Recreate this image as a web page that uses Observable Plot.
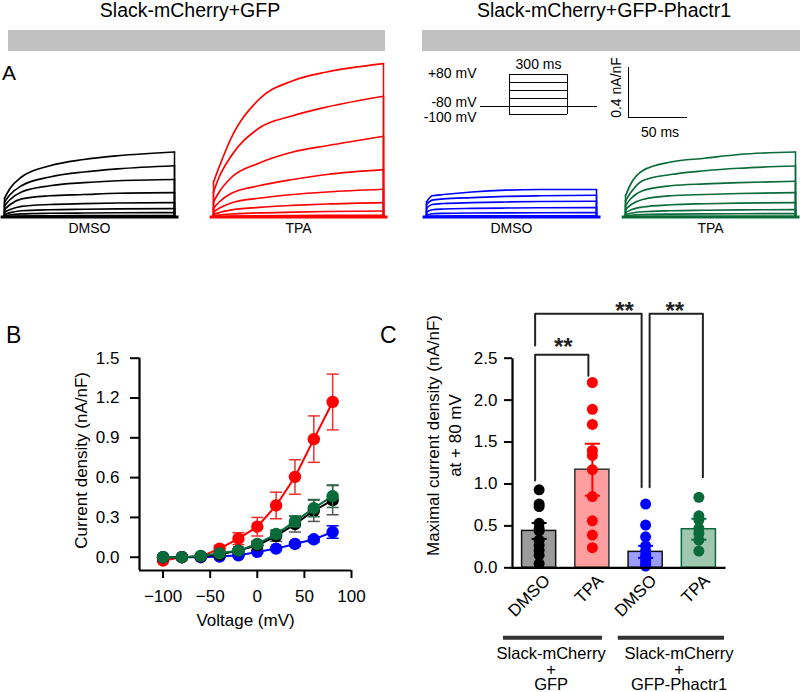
<!DOCTYPE html>
<html>
<head>
<meta charset="utf-8">
<script src="https://cdn.jsdelivr.net/npm/d3@7"></script>
<script src="https://cdn.jsdelivr.net/npm/@observablehq/plot@0.6"></script>
<style>
html,body{margin:0;padding:0;background:#fff;}
#fig{position:relative;width:800px;height:692px;overflow:hidden;font-family:"Liberation Sans",Arial,Helvetica,sans-serif;color:#000;background:#fff;}
.abs{position:absolute;line-height:1;white-space:nowrap;}
.abs svg{display:block;}
.title{font-size:19.5px;text-align:center;}
.letter{font-size:22px;}
.band{background:#c0c0c0;height:21px;}
</style>
</head>
<body>
<div id="fig"></div>
<script>
// ---------------- DATA ----------------
// Panel A: current traces (nA/nF) sampled at these times (ms) of the 300 ms step
const traceTimes = [0, 10, 30, 80, 140, 200, 300];
const holdingSpan = [-6, 308];
const tracesGfpDmso = [
  [0.15, 0.23, 0.32, 0.41, 0.46, 0.49, 0.52],
  [0.12, 0.18, 0.25, 0.32, 0.36, 0.385, 0.41],
  [0.09, 0.14, 0.20, 0.25, 0.275, 0.29, 0.30],
  [0.06, 0.10, 0.145, 0.17, 0.18, 0.19, 0.195],
  [0.04, 0.06, 0.085, 0.10, 0.107, 0.112, 0.115],
  [0.02, 0.035, 0.05, 0.058, 0.062, 0.065, 0.067],
  [0.01, 0.018, 0.025, 0.03, 0.032, 0.034, 0.035],
  [0.003, 0.006, 0.008, 0.01, 0.011, 0.012, 0.012],
  [0, 0.002, 0.003, 0.003, 0.004, 0.004, 0.004],
  [0, 0, 0, 0, 0, 0, 0]
];
const tracesGfpTpa = [
  [0.28, 0.40, 0.62, 0.94, 1.09, 1.16, 1.227],
  [0.20, 0.32, 0.48, 0.71, 0.81, 0.88, 0.966],
  [0.12, 0.20, 0.31, 0.43, 0.52, 0.57, 0.646],
  [0.07, 0.12, 0.186, 0.25, 0.30, 0.34, 0.379],
  [0.04, 0.07, 0.11, 0.15, 0.18, 0.20, 0.222],
  [0.02, 0.035, 0.055, 0.077, 0.093, 0.104, 0.115],
  [0.008, 0.015, 0.024, 0.033, 0.039, 0.044, 0.048],
  [0.002, 0.004, 0.007, 0.01, 0.012, 0.013, 0.014],
  [0, 0.001, 0.002, 0.003, 0.003, 0.004, 0.004],
  [0, 0, 0, 0, 0, 0, 0]
];
const tracesPhDmso = [
  [0.12, 0.17, 0.18, 0.20, 0.215, 0.22, 0.22],
  [0.10, 0.135, 0.145, 0.155, 0.165, 0.17, 0.174],
  [0.07, 0.10, 0.108, 0.115, 0.12, 0.124, 0.126],
  [0.04, 0.058, 0.064, 0.069, 0.072, 0.074, 0.075],
  [0.015, 0.026, 0.029, 0.032, 0.033, 0.034, 0.035],
  [0.004, 0.007, 0.008, 0.009, 0.01, 0.01, 0.01],
  [0, 0, 0, 0, 0, 0, 0]
];
const tracesPhTpa = [
  [0.17, 0.27, 0.37, 0.44, 0.47, 0.50, 0.52],
  [0.13, 0.20, 0.29, 0.34, 0.37, 0.39, 0.408],
  [0.09, 0.15, 0.21, 0.25, 0.265, 0.275, 0.286],
  [0.06, 0.10, 0.14, 0.17, 0.18, 0.188, 0.195],
  [0.035, 0.058, 0.08, 0.098, 0.106, 0.111, 0.115],
  [0.018, 0.03, 0.042, 0.05, 0.054, 0.057, 0.059],
  [0.008, 0.014, 0.019, 0.023, 0.025, 0.026, 0.027],
  [0.002, 0.003, 0.004, 0.005, 0.006, 0.006, 0.006],
  [0, 0, 0, 0, 0, 0, 0]
];
const traceLabels = ["DMSO", "TPA", "DMSO", "TPA"];
const conditionTitles = ["Slack-mCherry+GFP", "Slack-mCherry+GFP-Phactr1"];

// Voltage protocol (schematic)
const protocolLevels = ["+80", "+40", "0", "-40", "-80", "-100"];
const protocolHolding = "-80";
const protocolStep = [0, 300];        // ms
const protocolHoldSpan = [-150, 455]; // ms
const protocolLabels = ["+80 mV", "-80 mV", "-100 mV"];
const protocolDurationLabel = "300 ms";
// Scale bar
const scaleBarTime = 50;      // ms
const scaleBarCurrent = 0.4;  // nA/nF

// Panel B: I-V relation
const voltages = [-100, -80, -60, -40, -20, 0, 20, 40, 60, 80];
const ivGfpDmso    = [0.0, 0.0, 0.005, 0.02, 0.05, 0.09, 0.16, 0.25, 0.35, 0.43];
const ivGfpDmsoSem = [0.005, 0.005, 0.005, 0.01, 0.015, 0.03, 0.04, 0.06, 0.08, 0.11];
const ivGfpTpa     = [-0.025, 0.0, 0.005, 0.065, 0.14, 0.23, 0.39, 0.605, 0.89, 1.17];
const ivGfpTpaSem  = [0.01, 0.005, 0.01, 0.02, 0.045, 0.07, 0.10, 0.13, 0.175, 0.21];
const ivPhDmso     = [0.0, 0.0, 0.0, 0.005, 0.015, 0.04, 0.065, 0.10, 0.135, 0.19];
const ivPhDmsoSem  = [0.0, 0.0, 0.0, 0.005, 0.01, 0.01, 0.01, 0.015, 0.02, 0.047];
const ivPhTpa      = [0.0, 0.0, 0.01, 0.03, 0.05, 0.10, 0.175, 0.27, 0.37, 0.46];
const ivPhTpaSem   = [0.0, 0.0, 0.005, 0.01, 0.015, 0.02, 0.03, 0.04, 0.065, 0.085];
const ivXTicks = [-100, -50, 0, 50, 100];
const ivYTicks = [0, 0.3, 0.6, 0.9, 1.2, 1.5];

// Panel C: maximal current density at +80 mV
const barKeys   = ["GFP_DMSO", "GFP_TPA", "PH_DMSO", "PH_TPA"];
const barLabels = ["DMSO", "TPA", "DMSO", "TPA"];
const barMeans  = [0.44, 1.17, 0.19, 0.46];
const barSems   = [0.095, 0.31, 0.072, 0.125];
const ptsGfpDmso = [0.93, 0.76, 0.73, 0.53, 0.47, 0.44, 0.33, 0.27, 0.21, 0.15, 0.05];
const ptsGfpTpa  = [2.21, 1.89, 1.71, 1.40, 1.34, 1.17, 0.85, 0.56, 0.39, 0.24];
const ptsPhDmso  = [0.76, 0.51, 0.37, 0.26, 0.20, 0.15, 0.11, 0.07, 0.04, 0.02];
const ptsPhTpa   = [0.84, 0.62, 0.57, 0.47, 0.41, 0.33, 0.20];
const barYTicks = [0, 0.5, 1.0, 1.5, 2.0, 2.5];
const groupNames = ["Slack-mCherry\n+\nGFP", "Slack-mCherry\n+\nGFP-Phactr1"];
const groupMembers = [["GFP_DMSO", "GFP_TPA"], ["PH_DMSO", "PH_TPA"]];
const comparisons = [
  {a: "GFP_DMSO", b: "GFP_TPA", y: 2.54, ya: 1.04, yb: 2.29, label: "**"},
  {a: "GFP_DMSO", b: "PH_DMSO", y: 3.03, ya: 2.65, yb: 0.96, label: "**"},
  {a: "PH_DMSO",  b: "PH_TPA",  y: 3.03, ya: 0.96, yb: 1.08, label: "**"}
];

// ---------------- RENDERING ----------------
const FONT = '"Liberation Sans", Arial, Helvetica, sans-serif';
const baseStyle = {fontFamily: FONT, background: "transparent", overflow: "visible", maxWidth: "none", color: "#000"};
const fig = document.getElementById("fig");

function place(node, left, top, cls) {
  const d = document.createElement("div");
  d.className = "abs" + (cls ? " " + cls : "");
  d.style.left = left + "px";
  d.style.top = top + "px";
  if (typeof node === "string") d.textContent = node; else d.appendChild(node);
  fig.appendChild(d);
  return d;
}

// Titles, grey bands and panel letters
const t1 = place(conditionTitles[0], 0, 0.5, "title"); t1.style.width = "380px";
const t2 = place(conditionTitles[1], 404, 0.5, "title"); t2.style.width = "400px";
const b1 = place("", 8, 30, "band"); b1.style.width = "377px";
const b2 = place("", 422, 30, "band"); b2.style.width = "378px";
place("A", 2, 62, "letter").style.fontSize = "21px";
place("B", 6, 324, "letter").style.fontSize = "23px";
place("C", 380, 324, "letter").style.fontSize = "23px";

// Panel A traces
const hLine = {draw(ctx, size) { const r = Math.sqrt(size / Math.PI); ctx.moveTo(-r, 0); ctx.lineTo(r, 0); }};
const tStart = traceTimes[0], tEnd = traceTimes[traceTimes.length - 1];

function tracePlot(traces, color, label) {
  const pts = traces.flatMap((tr, k) => tr.map((v, j) => ({k, t: traceTimes[j], v})));
  const starts = traces.map((tr, k) => ({k, v: tr[0]}));
  const ends = traces.map((tr, k) => ({k, v: tr[tr.length - 1]}));
  return Plot.plot({
    width: 200, height: 200,
    marginLeft: 10, marginRight: 20, marginTop: 10, marginBottom: 27.5,
    x: {domain: [tStart, tEnd], axis: null},
    y: {domain: [0, 1.3], axis: null},
    style: baseStyle,
    marks: [
      Plot.ruleY([0], {x1: holdingSpan[0], x2: holdingSpan[1], stroke: color, strokeWidth: 3}),
      Plot.ruleX(starts, {x: tStart, y1: 0, y2: "v", stroke: color, strokeWidth: 1.5}),
      Plot.ruleX(ends, {x: tEnd, y1: 0, y2: "v", stroke: color, strokeWidth: 1.5}),
      Plot.line(pts, {x: "t", y: "v", z: "k", stroke: color, strokeWidth: 1.7, curve: "monotone-x"}),
      Plot.text([label], {x: (tStart + tEnd) / 2, y: 0, dy: 6, lineAnchor: "top", fontSize: 14})
    ]
  });
}
place(tracePlot(tracesGfpDmso, "#000000", traceLabels[0]), -6, 44);
place(tracePlot(tracesGfpTpa, "#ff0000", traceLabels[1]), 203, 44);
place(tracePlot(tracesPhDmso, "#0000ff", traceLabels[2]), 416, 44);
place(tracePlot(tracesPhTpa, "#0a6b3a", traceLabels[3]), 615, 44);

// Protocol schematic
const protoSteps = protocolLevels.map(l => ({l}));
const protoPlot = Plot.plot({
  width: 207, height: 85.3,
  marginLeft: 80, marginRight: 10, marginTop: 32, marginBottom: 10,
  x: {domain: protocolHoldSpan, axis: null},
  y: {type: "point", domain: protocolLevels, padding: 0, axis: null},
  style: baseStyle,
  marks: [
    Plot.ruleY(protoSteps, {y: "l", x1: protocolStep[0], x2: protocolStep[1], stroke: "#000", strokeWidth: 1}),
    Plot.ruleY([protocolHolding], {y: d => d, x1: protocolHoldSpan[0], x2: protocolHoldSpan[1], stroke: "#000", strokeWidth: 1}),
    Plot.ruleX(protocolStep, {x: d => d, y1: () => protocolLevels[0], y2: () => protocolLevels[protocolLevels.length - 1], stroke: "#000", strokeWidth: 1}),
    Plot.text([protocolLabels[0]], {x: protocolHoldSpan[0], y: () => protocolLevels[0], dx: -4, dy: -1, textAnchor: "end", fontSize: 14}),
    Plot.text([protocolLabels[1]], {x: protocolHoldSpan[0], y: () => protocolHolding, dx: -4, dy: -4, textAnchor: "end", fontSize: 14}),
    Plot.text([protocolLabels[2]], {x: protocolHoldSpan[0], y: () => protocolLevels[protocolLevels.length - 1], dx: -4, dy: 3, textAnchor: "end", fontSize: 14}),
    Plot.text([protocolDurationLabel], {x: (protocolStep[0] + protocolStep[1]) / 2, y: () => protocolLevels[0], dy: -10, fontSize: 14})
  ]
});
place(protoPlot, 400, 40);

// Scale bar
const scalePlot = Plot.plot({
  width: 89, height: 85,
  marginLeft: 20, marginRight: 10, marginTop: 10, marginBottom: 25,
  x: {domain: [0, scaleBarTime], axis: null},
  y: {domain: [0, scaleBarCurrent], axis: null},
  style: baseStyle,
  marks: [
    Plot.ruleX([0], {y1: 0, y2: scaleBarCurrent, stroke: "#000", strokeWidth: 1}),
    Plot.ruleY([0], {x1: 0, x2: scaleBarTime, stroke: "#000", strokeWidth: 1}),
    Plot.text([`${scaleBarCurrent} nA/nF`], {x: 0, y: scaleBarCurrent / 2, rotate: -90, dx: -12, dy: -5, fontSize: 14}),
    Plot.text([`${scaleBarTime} ms`], {x: scaleBarTime / 2, y: 0, dx: 2, dy: 15, fontSize: 14})
  ]
});
place(scalePlot, 608, 57);

// Panel B: I-V
const ivSeries = [
  {mean: ivGfpTpa, sem: ivGfpTpaSem, color: "#ff0000", err: "#f03030"},
  {mean: ivPhDmso, sem: ivPhDmsoSem, color: "#0000ff", err: "#0000ff"},
  {mean: ivGfpDmso, sem: ivGfpDmsoSem, color: "#000000", err: "#555555"},
  {mean: ivPhTpa, sem: ivPhTpaSem, color: "#0a6b3a", err: "#2f6e4d"}
];
const ivMarks = [];
for (const s of ivSeries) {
  const rows = voltages.map((v, i) => ({v, m: s.mean[i], lo: s.mean[i] - s.sem[i], hi: s.mean[i] + s.sem[i]}));
  ivMarks.push(
    Plot.ruleX(rows, {x: "v", y1: "lo", y2: "hi", stroke: s.err, strokeWidth: 1.5}),
    Plot.dot(rows, {x: "v", y: "hi", symbol: hLine, r: 6, stroke: s.err, strokeWidth: 1.5}),
    Plot.dot(rows, {x: "v", y: "lo", symbol: hLine, r: 6, stroke: s.err, strokeWidth: 1.5}),
    Plot.line(rows, {x: "v", y: "m", stroke: s.color, strokeWidth: 2}),
    Plot.dot(rows, {x: "v", y: "m", r: 6.2, fill: s.color, stroke: "none"})
  );
}
const ivPlot = Plot.plot({
  width: 370, height: 330,
  marginLeft: 139, marginRight: 19, marginTop: 57.7, marginBottom: 60,
  x: {domain: [-125, 100]},
  y: {domain: [-0.1, 1.5]},
  style: baseStyle,
  marks: [
    Plot.ruleX([-125], {stroke: "#000", strokeWidth: 2.2}),
    Plot.ruleY([-0.1], {stroke: "#000", strokeWidth: 2.2}),
    Plot.axisX({ticks: ivXTicks, tickSize: 8, tickPadding: 11, fontSize: 17, strokeWidth: 2, label: null}),
    Plot.axisY({ticks: ivYTicks, tickSize: 9, tickPadding: 11, fontSize: 17, strokeWidth: 2, tickFormat: d3.format(".1f"), label: null}),
    Plot.text(["Voltage (mV)"], {frameAnchor: "bottom", lineAnchor: "top", dy: 43, fontSize: 17}),
    Plot.text(["Current density (nA/nF)"], {frameAnchor: "left", textAnchor: "middle", rotate: -90, dx: -58, dy: -4, fontSize: 17}),
    ...ivMarks
  ]
});
place(ivPlot, 0, 300);

// Panel C: bars
const barStyles = {
  GFP_DMSO: {fill: "#9b9b9b", stroke: "#111111", dot: "#000000"},
  GFP_TPA:  {fill: "#ff9e9e", stroke: "#333333", dot: "#ff0000"},
  PH_DMSO:  {fill: "#9c9cff", stroke: "#111111", dot: "#0000ff"},
  PH_TPA:   {fill: "#9fc6ae", stroke: "#0a6b3a", dot: "#0a6b3a"}
};
const barPoints = {GFP_DMSO: ptsGfpDmso, GFP_TPA: ptsGfpTpa, PH_DMSO: ptsPhDmso, PH_TPA: ptsPhTpa};
const barRows = barKeys.map((k, i) => ({k, m: barMeans[i], lo: barMeans[i] - barSems[i], hi: barMeans[i] + barSems[i]}));
const labelOf = Object.fromEntries(barKeys.map((k, i) => [k, barLabels[i]]));

const cMarks = [];
for (const r of barRows) {
  const st = barStyles[r.k];
  cMarks.push(Plot.barY([r], {x: "k", y: "m", fill: st.fill, stroke: st.stroke, strokeWidth: 1.5}));
}
for (const r of barRows) {
  const st = barStyles[r.k];
  const pts = barPoints[r.k].map(v => ({k: r.k, v}));
  cMarks.push(
    Plot.dot(pts, {x: "k", y: "v", r: 5.5, fill: st.dot, stroke: "none"}),
    Plot.ruleX([r], {x: "k", y1: "lo", y2: "hi", stroke: st.dot, strokeWidth: 2}),
    Plot.dot([r], {x: "k", y: "hi", symbol: hLine, r: 7.5, stroke: st.dot, strokeWidth: 2}),
    Plot.dot([r], {x: "k", y: "lo", symbol: hLine, r: 7.5, stroke: st.dot, strokeWidth: 2})
  );
}
// significance brackets
const bracketDx = [-4, -4, 4];
const starDx = [-29, -21, -24];
const starDy = [-8, -2, -2];
comparisons.forEach((c, i) => {
  const path = [{x: c.a, y: c.ya}, {x: c.a, y: c.y}, {x: c.b, y: c.y}, {x: c.b, y: c.yb}];
  cMarks.push(
    Plot.line(path, {x: "x", y: "y", stroke: "#222", strokeWidth: 2, dx: bracketDx[i]}),
    Plot.text([c], {x: "b", y: "y", text: "label", dx: starDx[i], dy: starDy[i], fontSize: 24, fontWeight: "bold", fill: "#222"})
  );
});
// grouping lines and labels
const groupInsets = [[-18.6, 6.9], [-10.3, -8.6]];
const groupTextDx = [12, 33.4];
groupMembers.forEach((g, i) => {
  cMarks.push(
    Plot.ruleY([{a: g[0], b: g[g.length - 1]}], {x1: "a", x2: "b", y: 0, dy: 70, stroke: "#333", strokeWidth: 4,
      insetLeft: groupInsets[i][0], insetRight: groupInsets[i][1]}),
    Plot.text([{k: g[0], t: groupNames[i]}], {x: "k", y: 0, text: "t", dx: groupTextDx[i], dy: 80, lineAnchor: "top", lineHeight: 0.95, fontSize: 16.5})
  );
});

const FW = 340 - 112 - 15, FH = 402 - 67.7 - 124.7;
const barPlot = Plot.plot({
  width: 340, height: 402,
  marginLeft: 112, marginRight: 15, marginTop: 67.7, marginBottom: 124.7,
  x: {type: "band", domain: barKeys, paddingInner: 0.36, paddingOuter: 0.18, round: false},
  y: {domain: [0, 2.5]},
  style: baseStyle,
  marks: [
    ...cMarks,
    Plot.frame({stroke: "#000", strokeWidth: 2.2, strokeDasharray: `0 ${FW + FH} ${FW + FH}`}),
    Plot.axisX({tickSize: 0, tickPadding: 10, tickRotate: -45, fontSize: 17, dx: 8, tickFormat: k => labelOf[k], label: null}),
    Plot.axisY({ticks: barYTicks, tickSize: 8, tickPadding: 7, fontSize: 17, strokeWidth: 2, tickFormat: d3.format(".1f"), label: null}),
    Plot.text(["Maximal current density (nA/nF)\nat + 80 mV"], {frameAnchor: "left", textAnchor: "middle", rotate: -90, dx: -69.5, dy: -27.5, fontSize: 17, lineHeight: 1.3})
  ]
});
place(barPlot, 400, 290);
</script>
</body>
</html>
